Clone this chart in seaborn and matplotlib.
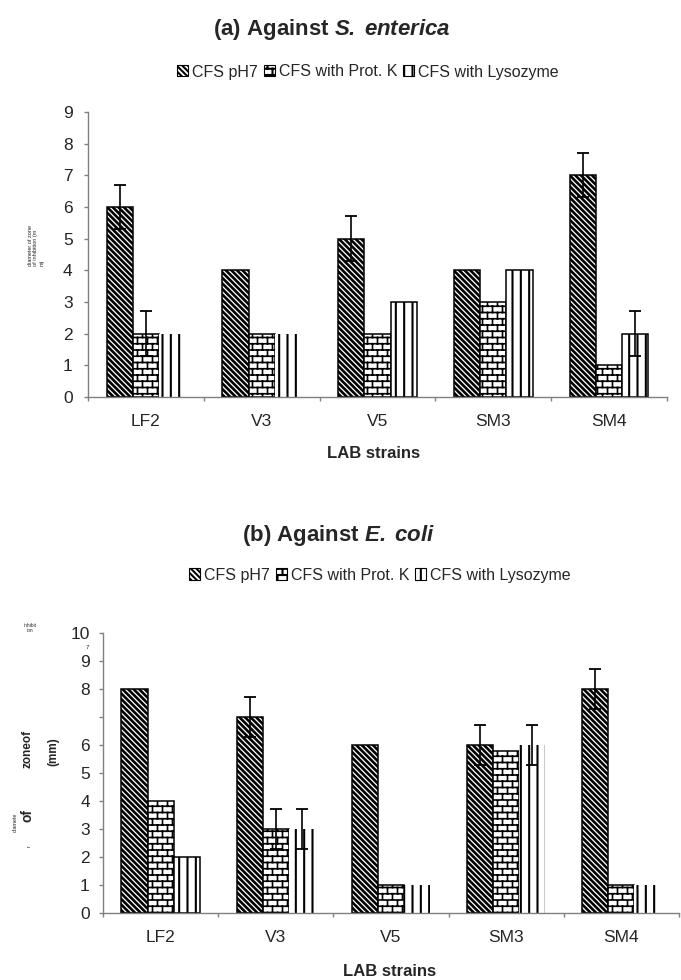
# -*- coding: utf-8 -*-
"""
Zone of inhibition of LAB cell-free supernatants against S. enterica and E. coli.
"""

import warnings

import numpy as np
import pandas as pd
import matplotlib
matplotlib.use("Agg")
import matplotlib.pyplot as plt
from matplotlib import hatch as mhatch
from matplotlib.path import Path
from matplotlib.patches import Patch
import seaborn as sns

# ── data ──────────────────────────────────────────────────────────────────────
strains = ["LF2", "V3", "V5", "SM3", "SM4"]
treatments = ["CFS pH7", "CFS with Prot. K", "CFS with Lysozyme"]

sal_ph7 = [6, 4, 5, 4, 7]
sal_protk = [2, 2, 2, 3, 1]
sal_lyso = [2, 2, 3, 4, 2]
sal_ph7_err = [0.7, 0, 0.7, 0, 0.7]
sal_protk_err = [0.7, 0, 0, 0, 0]
sal_lyso_err = [0, 0, 0, 0, 0.7]

eco_ph7 = [8, 7, 6, 6, 8]
eco_protk = [4, 3, 1, 5.8, 1]
eco_lyso = [2, 3, 1, 6, 1]
eco_ph7_err = [0, 0.7, 0, 0.7, 0.7]
eco_protk_err = [0, 0.7, 0, 0, 0]
eco_lyso_err = [0, 0.7, 0, 0.7, 0]

sal_yticklabels = ["0", "1", "2", "3", "4", "5", "6", "7", "8", "9"]
eco_yticklabels = ["0", "1", "2", "3", "4", "5", "6", "", "8", "9", "10"]

GREY = "#808080"
HATCHES = ["\\" * 6, "BB", "||"]
HATCH_LW = [1.9, 1.2, 1.5]


# ── brick hatch (not built into matplotlib) ───────────────────────────────────
class BrickHatch(mhatch.HatchPatternBase):
    """Brick wall pattern, selected with 'B' in the hatch string."""

    def __init__(self, hatch, density):
        n = hatch.count("B")
        self.rows = 8 * n
        self.cols = 5 * n
        self.num_vertices = (2 * (self.rows + 1) + 2 * self.rows * self.cols) if n else 0

    def set_vertices_and_codes(self, vertices, codes):
        ys = np.linspace(0.0, 1.0, self.rows + 1)
        k = 2 * (self.rows + 1)
        vertices[0:k:2, 0] = 0.0
        vertices[1:k:2, 0] = 1.0
        vertices[0:k:2, 1] = ys
        vertices[1:k:2, 1] = ys
        seg = []
        for i in range(self.rows):
            shift = 0.5 * (i % 2) + 0.25
            for j in range(self.cols):
                x = (j + shift) / self.cols
                seg += [(x, ys[i]), (x, ys[i + 1])]
        vertices[k:] = seg
        codes[0::2] = Path.MOVETO
        codes[1::2] = Path.LINETO


mhatch._hatch_types.append(BrickHatch)
warnings.filterwarnings("ignore", message="hatch must consist")

sns.set_theme(style="ticks")
plt.rcParams["font.family"] = ["Liberation Sans", "DejaVu Sans"]
plt.rcParams["font.sans-serif"] = ["Liberation Sans", "DejaVu Sans"]
plt.rcParams["mathtext.fontset"] = "custom"
plt.rcParams["mathtext.bfit"] = "Liberation Sans:italic:bold"
plt.rcParams["mathtext.it"] = "Liberation Sans:italic"
plt.rcParams["hatch.linewidth"] = 1.5


def px(x, y):
    return x / 681, 1 - y / 980


def draw_panel(ax, values, errors, bare_lyso, ymax, yticklabels, ypad):
    df = pd.DataFrame({
        "strain": strains * 3,
        "treatment": np.repeat(treatments, len(strains)),
        "zone": sum(values, []),
    })
    sns.barplot(data=df, x="strain", y="zone", hue="treatment",
                order=strains, hue_order=treatments, palette=["white"] * 3,
                edgecolor="black", linewidth=1.1, width=0.68,
                errorbar=None, legend=False, ax=ax)

    for i, (cont, h, err) in enumerate(zip(ax.containers, HATCHES, errors)):
        for j, p in enumerate(cont):
            p.set_hatch(h)
            if hasattr(p, "set_hatch_linewidth"):
                p.set_hatch_linewidth(HATCH_LW[i])
            if i == 2 and j in bare_lyso:
                p.set_linewidth(0)
        xs = np.array([p.get_x() + p.get_width() / 2 for p in cont])
        ys = np.array([p.get_height() for p in cont])
        e = np.array(err)
        m = e > 0
        if m.any():
            ax.errorbar(xs[m], ys[m], yerr=e[m], fmt="none", ecolor="black",
                        elinewidth=1.2, capsize=4, capthick=1.3, zorder=5)

    ax.set_ylim(0, ymax)
    ax.set_yticks(range(ymax + 1))
    ax.set_yticklabels(yticklabels)
    ax.set_xlim(-0.5, len(strains) - 0.5)
    ax.set_xticks(np.arange(-0.5, len(strains), 1), minor=True)
    ax.set_xlabel("")
    ax.set_ylabel("")
    sns.despine(ax=ax)
    for s in ("left", "bottom"):
        ax.spines[s].set_color(GREY)
        ax.spines[s].set_linewidth(1.0)
    ax.tick_params(axis="x", which="major", length=0, pad=12, labelsize=12.5)
    ax.tick_params(axis="x", which="minor", length=3, color=GREY, width=1)
    ax.tick_params(axis="y", length=3, color=GREY, width=1, pad=ypad, labelsize=12.5)


fig = plt.figure(figsize=(6.81, 9.80), dpi=100)

ax1 = fig.add_axes([88 / 681, 1 - 397 / 980, (667 - 88) / 681, (397 - 112) / 980])
draw_panel(ax1, [sal_ph7, sal_protk, sal_lyso],
           [sal_ph7_err, sal_protk_err, sal_lyso_err],
           bare_lyso=[0, 1], ymax=9, yticklabels=sal_yticklabels, ypad=8)

ax2 = fig.add_axes([103 / 681, 1 - 913 / 980, (679 - 103) / 681, (913 - 633) / 980])
draw_panel(ax2, [eco_ph7, eco_protk, eco_lyso],
           [eco_ph7_err, eco_protk_err, eco_lyso_err],
           bare_lyso=[1, 2, 3, 4], ymax=10, yticklabels=eco_yticklabels, ypad=6.5)

# ── titles, legends, axis labels ──────────────────────────────────────────────
fig.text(*px(332, 29), r"(a) Against $\mathbfit{S.\;enterica}$",
         fontsize=16, fontweight="bold", ha="center", va="center")
fig.text(*px(338, 536), r"(b) Against $\mathbfit{E.\;coli}$",
         fontsize=16, fontweight="bold", ha="center", va="center")

handles = [Patch(facecolor="white", edgecolor="black", hatch=h, linewidth=0.8)
           for h in HATCHES]
for ax, (lx, ly) in ((ax1, (368, 72)), (ax2, (380, 575))):
    ax.legend(handles, treatments, ncol=3, loc="center",
              bbox_to_anchor=px(lx, ly), bbox_transform=fig.transFigure,
              frameon=False, fontsize=11.5, handlelength=0.7, handleheight=0.7,
              handletextpad=0.25, columnspacing=0.35, borderpad=0)

fig.text(*px(374, 454), "LAB strains", fontsize=12, fontweight="bold",
         ha="center", va="center")
fig.text(*px(390, 971), "LAB strains", fontsize=12, fontweight="bold",
         ha="center", va="center")

# y label of (a): tiny three-line text
fig.text(*px(36, 246), "diameter of zone\nof inhibition (m\nm)", fontsize=4,
         rotation=90, ha="center", va="center", multialignment="left")

# y label of (b): scattered fragments as in the source
fig.text(*px(30, 628), "inhibit\nion", fontsize=3.5, ha="center", va="center",
         linespacing=0.9)
fig.text(*px(87, 647), "7", fontsize=4.5, ha="center", va="center")
fig.text(*px(27, 749), "zoneof", fontsize=8.5, fontweight="bold", rotation=90,
         ha="center", va="center")
fig.text(*px(53, 752), "(mm)", fontsize=8.5, fontweight="bold", rotation=90,
         ha="center", va="center")
fig.text(*px(28, 815), "of", fontsize=10, fontweight="bold", rotation=90,
         ha="center", va="center")
fig.text(*px(15, 822), "diamete", fontsize=4, rotation=90, ha="center", va="center")
fig.text(*px(29, 846), "r", fontsize=4, rotation=90, ha="center", va="center")

fig.savefig("out.png", dpi=100)
plt.close(fig)
